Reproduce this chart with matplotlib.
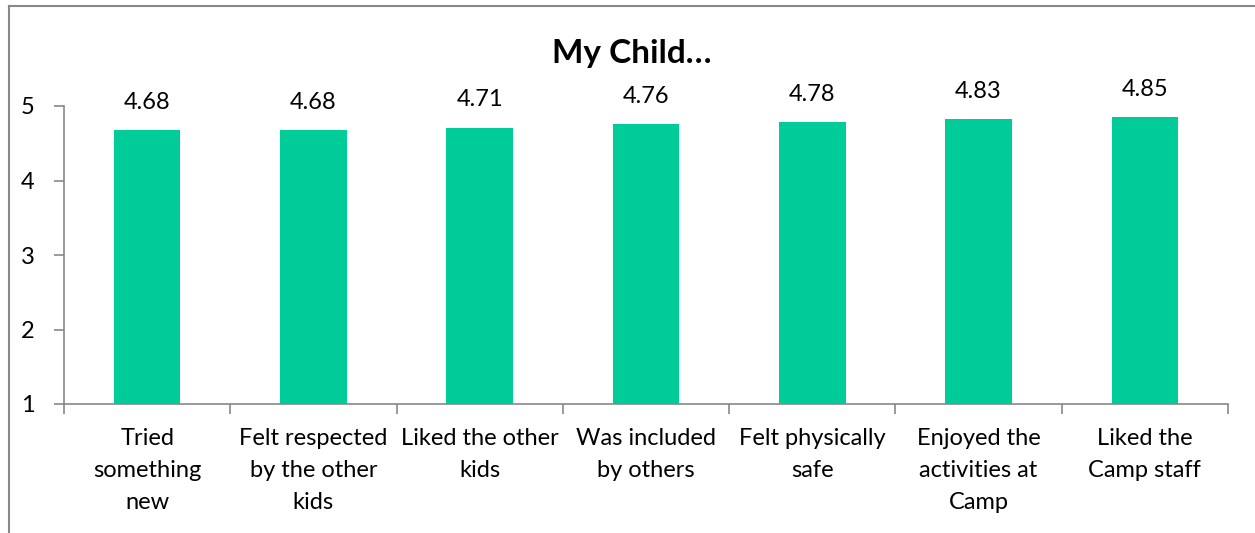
import matplotlib.pyplot as plt
import numpy as np

plt.rcParams['font.family'] = ['Lato', 'DejaVu Sans']

categories = ["Tried\nsomething\nnew", "Felt respected\nby the other\nkids",
              "Liked the other\nkids", "Was included\nby others",
              "Felt physically\nsafe", "Enjoyed the\nactivities at\nCamp",
              "Liked the\nCamp staff"]
scores = [4.68, 4.68, 4.71, 4.76, 4.78, 4.83, 4.85]
bar_color = '#00CC99'
axis_gray = '#888888'

fig = plt.figure(figsize=(12.55, 5.33), dpi=100)
ax = fig.add_axes([64 / 1255, 1 - 404 / 533, (1228 - 64) / 1255, (404 - 106) / 533])

x = np.arange(len(categories))
ax.bar(x, scores, width=0.4, color=bar_color, bottom=0)
for xi, v in zip(x, scores):
    ax.text(xi, v + 0.23, f"{v:.2f}", ha='center', va='bottom', fontsize=17)

ax.set_xlim(-0.5, len(categories) - 0.5)
ax.set_ylim(1, 5)
ax.set_yticks([1, 2, 3, 4, 5])
ax.set_xticks(np.arange(-0.5, len(categories), 1.0))
ax.set_xticklabels([])
ax.tick_params(axis='both', direction='out', color=axis_gray, length=7, width=1.2,
               labelsize=17)
ax.tick_params(axis='y', pad=14)
for xi, lab in zip(x, categories):
    ax.text(xi, 1 - 0.32, lab, ha='center', va='top', fontsize=17,
            linespacing=1.66)

for s in ['top', 'right']:
    ax.spines[s].set_visible(False)
for s in ['left', 'bottom']:
    ax.spines[s].set_color(axis_gray)
    ax.spines[s].set_linewidth(1.2)

fig.text(632 / 1255, 1 - 53 / 533, "My Child…", ha='center', va='center',
         fontsize=24, fontweight='bold')

# outer chart frame
fig.add_artist(plt.Line2D([9 / 1255, 9 / 1255], [0, 1 - 6 / 533], color=axis_gray,
                          lw=1.5, transform=fig.transFigure))
fig.add_artist(plt.Line2D([9 / 1255, 1], [1 - 6 / 533, 1 - 6 / 533], color=axis_gray,
                          lw=1.5, transform=fig.transFigure))

fig.savefig('out.png', dpi=100)
